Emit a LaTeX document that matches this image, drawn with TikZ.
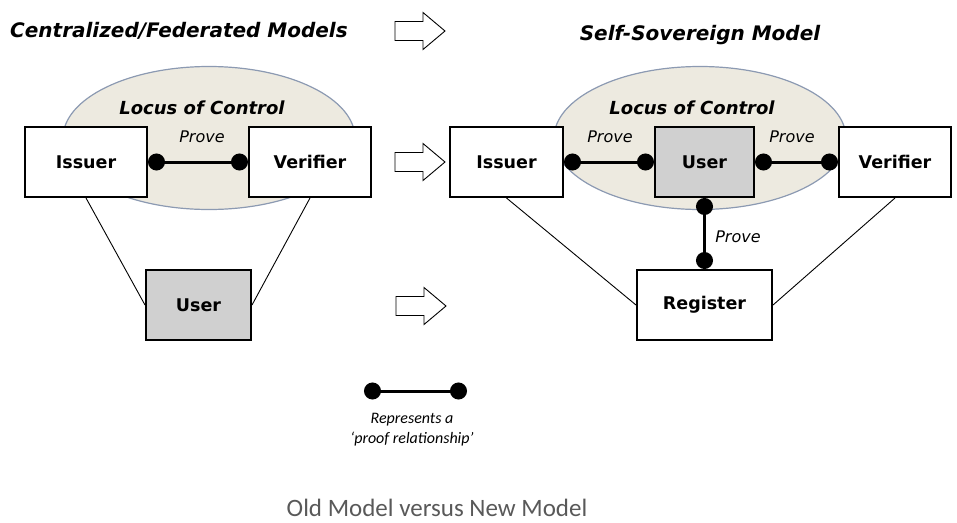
\documentclass[tikz,border=0pt]{standalone}
\usepackage{fontspec}
\newfontfamily\verd{DejaVu Sans}
\newfontfamily\calib{Carlito}
\usetikzlibrary{shapes.geometric,arrows.meta,positioning}
\definecolor{locusfill}{HTML}{EDEAE0}
\definecolor{locusline}{HTML}{8C9AB2}
\definecolor{usergray}{HTML}{D0D0D0}
\definecolor{capgray}{HTML}{595959}

\begin{document}
\begin{tikzpicture}[x=1pt, y=-1pt,
  box/.style={rectangle, draw, line width=2pt, fill=white, minimum height=70pt,
    font=\verd\bfseries\fontsize{17.5}{20}\selectfont},
  userbox/.style={box, fill=usergray},
  locus/.style={ellipse, draw=locusline, line width=1.2pt, fill=locusfill,
    minimum width=292pt, minimum height=143pt},
  proof/.style={line width=3pt, {Circle[length=17pt,width=17pt]}-{Circle[length=17pt,width=17pt]}},
  link/.style={line width=0.9pt},
  title/.style={font=\verd\bfseries\itshape\fontsize{20}{24}\selectfont},
  loctext/.style={font=\verd\bfseries\itshape\fontsize{18}{22}\selectfont},
  provetext/.style={font=\verd\itshape\fontsize{16}{19}\selectfont},
  hollow/.pic={\draw[line width=0.9pt, fill=white] (-25,-9.5) -- (3,-9.5) -- (3,-18.5)
    -- (25,0) -- (3,18.5) -- (3,9.5) -- (-25,9.5) -- cycle;}]
  \useasboundingbox (0,0) rectangle (957,522);

  % titles and arrows
  \node [title] (told) at (179,31) {Centralized/Federated Models};
  \node [title] (tnew) at (700,35) {Self-Sovereign Model};
  \pic at (420,31) {hollow};
  \pic at (420,162) {hollow};
  \pic at (421,306) {hollow};

  % old model
  \node [locus] (loc1) at (209,138) {};
  \node [loctext] (lt1) at (202,108) {Locus of Control};
  \node [box, minimum width=122pt] (iss1) at (86,162) {Issuer};
  \node [box, minimum width=122pt] (ver1) at (310,162) {Verifier};
  \node [userbox, minimum width=105pt] (user1) at (198.5,305) {User};
  \draw [proof] (iss1) -- (ver1);
  \node [provetext] (p1) at (202,137) {Prove};
  \draw [link] (iss1.south) -- (user1.west);
  \draw [link] (ver1.south) -- (user1.east);

  % new model
  \node [locus] (loc2) at (700,138) {};
  \node [loctext] (lt2) at (692,108) {Locus of Control};
  \node [box, minimum width=113pt] (iss2) at (506.5,162) {Issuer};
  \node [userbox, minimum width=99pt] (user2) at (704.5,162) {User};
  \node [box, minimum width=112pt] (ver2) at (895,162) {Verifier};
  \node [box, minimum width=135pt] (reg) at (704.5,305) {Register};
  \draw [proof] (iss2) -- (user2);
  \draw [proof] (user2) -- (ver2);
  \draw [proof] (user2) -- (reg);
  \node [provetext] (p2) at (610,137) {Prove};
  \node [provetext] (p3) at (792,137) {Prove};
  \node [provetext] (p4) at (738,237) {Prove};
  \draw [link] (iss2.south) -- (reg.west);
  \draw [link] (ver2.south) -- (reg.east);

  % legend
  \coordinate (la) at (364,391);
  \coordinate (lb) at (467,391);
  \draw [proof] (la) -- (lb);
  \node [align=center, font=\calib\itshape\fontsize{16}{20}\selectfont] (leg) at (412,430)
    {Represents a\\‘proof relationship’};

  \node [text=capgray, font=\calib\fontsize{25}{30}\selectfont] (cap) at (437,508)
    {Old Model versus New Model};
\end{tikzpicture}
\end{document}
